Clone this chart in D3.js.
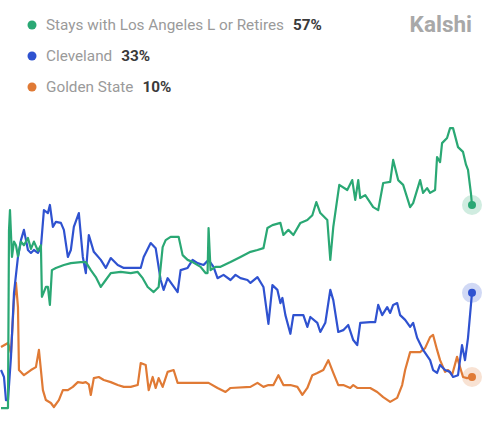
<!DOCTYPE html>
<html><head><meta charset="utf-8">
<script src="https://cdn.jsdelivr.net/npm/d3@7"></script>
<style>body{margin:0;background:#fff}svg{display:block}</style>
</head><body>
<svg id="c" width="500" height="440"></svg>
<script>
const seriesNames = ["Stays with Los Angeles L or Retires", "Cleveland", "Golden State"];
const seriesLabels = ["57%", "33%", "10%"];
const seriesColors = ["#2aa874", "#2f52d0", "#e07a35"];
const brand = "Kalshi";

// [time index, probability %]
const greenData = [[0,1.5],[7,1.5],[8,50],[9,55.6],[11,42.8],[13,47],[15,46],[17,43],[20,47],[23,46],[27,48],[30,45],[33,47],[37,44.5],[40,46],[41,31.9],[45,34.6],[47,34.6],[49,29.7],[51,39.2],[55,39.8],[63,40.6],[70,41.1],[80,41.4],[85,41.4],[90,39.2],[95,37.3],[100,34.6],[105,36.5],[110,38.4],[120,38.7],[130,38.4],[137,38.7],[142,37.0],[147,34.6],[153,33.2],[158,34.6],[162,45.5],[165,47.4],[170,48.3],[178,48.3],[182,43.3],[187,42.0],[192,41.4],[200,40.1],[205,38.4],[207,38.4],[208,50.7],[210,39.2],[215,40.1],[220,40.1],[230,41.4],[240,42.8],[250,44.2],[257,44.7],[263,45.2],[267,50.7],[272,51.5],[280,52.1],[283,48.8],[288,50.2],[293,48.8],[300,52.1],[307,52.9],[312,54.2],[316,57.8],[320,54.8],[327,52.9],[330,42.0],[333,51.0],[339,62.5],[347,61.1],[352,63.8],[355,58.4],[358,63.8],[360,58.9],[365,59.7],[373,56.4],[378,55.6],[383,63.0],[390,63.3],[393,69.3],[398,63.8],[403,62.5],[410,56.4],[413,57.5],[420,63.8],[423,60.3],[427,61.6],[430,60.3],[435,61.1],[437,70.1],[440,68.7],[442,73.9],[447,75.3],[450,78.0],[453,78.0],[458,72.8],[463,71.5],[466,68],[468,66.6],[471,60],[472,57]];

const blueData = [[0,11.9],[3,10.0],[5,3.7],[7,3.7],[10,15.5],[13,32.9],[17,42.8],[20,47.4],[23,50.2],[27,44.7],[30,43.9],[33,44.7],[37,43.9],[40,45.5],[43,55.6],[47,54.8],[49,57.0],[52,51.0],[55,52.4],[60,52.1],[63,50.2],[67,42.8],[70,44.7],[73,51.0],[78,54.8],[82,42.8],[85,38.4],[88,48.8],[93,44.2],[100,42.0],[105,39.8],[110,42.5],[117,40.6],[123,39.8],[130,39.8],[140,39.8],[143,42.8],[150,46.6],[155,45.2],[160,36.5],[163,33.8],[167,37.0],[172,35.1],[177,33.2],[180,39.2],[187,39.8],[192,42.0],[197,41.1],[203,40.6],[208,42.0],[213,40.1],[217,37.0],[223,37.9],[230,36.5],[235,37.9],[240,37.0],[247,36.5],[250,35.7],[257,37.3],[263,34.6],[268,24.5],[272,35.1],[277,33.8],[280,30.2],[282,31.6],[285,26.9],[290,21.8],[293,26.9],[303,26.9],[307,23.7],[310,26.4],[317,24.8],[320,22.3],[325,24.8],[330,33.8],[333,31.0],[338,22.3],[343,22.8],[348,24.2],[353,20.1],[357,18.7],[360,24.8],[370,25.0],[375,25.0],[378,29.7],[382,26.9],[387,29.1],[390,27.5],[393,29.7],[397,30.2],[400,26.9],[405,25.6],[410,23.7],[413,24.8],[417,20.7],[423,17.4],[430,14.6],[433,11.9],[437,11.1],[440,13.3],[445,11.9],[450,11.4],[453,10.0],[458,10.5],[462,18.7],[465,14.6],[468,20.7],[472,33]];

const orangeData = [[0,18.2],[7,19.3],[10,16.6],[13,31.0],[15,35.7],[17,29.1],[18,11.9],[23,10.5],[30,11.9],[35,12.7],[38,17.4],[42,6.4],[45,3.7],[50,2.9],[53,1.8],[58,3.7],[62,6.4],[67,6.4],[72,7.3],[77,8.6],[82,8.4],[85,8.6],[88,8.0],[90,5.1],[93,9.7],[98,10.0],[103,9.2],[110,8.6],[117,7.8],[123,7.3],[130,7.3],[137,7.8],[140,13.8],[145,13.3],[148,6.4],[152,10.0],[155,7.0],[158,9.7],[162,7.3],[167,11.4],[173,11.9],[177,8.4],[190,8.4],[208,8.4],[217,7.0],[225,5.9],[230,7.0],[250,7.3],[257,8.4],[263,7.3],[268,7.8],[273,7.8],[278,10.5],[283,7.8],[290,7.8],[297,7.3],[302,5.1],[307,7.0],[312,10.5],[317,11.1],[323,11.9],[328,14.6],[333,11.1],[338,7.8],[343,7.8],[350,7.0],[353,7.8],[357,7.0],[363,7.0],[370,7.0],[377,5.9],[383,4.5],[390,3.2],[397,4.3],[402,7.8],[405,11.9],[410,16.8],[415,16.8],[420,16.8],[425,17.9],[430,20.9],[433,21.5],[437,17.4],[440,14.6],[445,11.4],[448,11.9],[452,10.5],[457,15.5],[460,12.7],[463,10.0],[467,9.7],[472,10]];

const allData = [greenData, blueData, orangeData];

const svg = d3.select("#c");
const x = d3.scaleLinear().domain([0, 472]).range([1, 472]);
const y = d3.scaleLinear().domain([0, 100]).range([413.6, 47.6]);

const line = d3.line().x(d => x(d[0])).y(d => y(d[1])).curve(d3.curveLinear);

const order = [2, 1, 0];
order.forEach(i => {
  svg.append("path").datum(allData[i])
    .attr("fill", "none").attr("stroke", seriesColors[i])
    .attr("stroke-width", 2.2).attr("stroke-linejoin", "round")
    .attr("d", line);
});
order.forEach(i => {
  const last = allData[i][allData[i].length - 1];
  svg.append("circle").attr("cx", x(last[0])).attr("cy", y(last[1]))
    .attr("r", 10).attr("fill", seriesColors[i]).attr("opacity", 0.22);
  svg.append("circle").attr("cx", x(last[0])).attr("cy", y(last[1]))
    .attr("r", 4).attr("fill", seriesColors[i]);
});

// legend
const lg = svg.append("g");
seriesNames.forEach((n, i) => {
  const yy = 25 + i * 31;
  lg.append("circle").attr("cx", 32).attr("cy", yy).attr("r", 4.5).attr("fill", seriesColors[i]);
  const t = lg.append("text").attr("x", 46).attr("y", yy + 5)
    .attr("font-family", "Roboto, 'Noto Sans', sans-serif").attr("font-size", 15.3)
    .attr("fill", "#9a9a9a").text(n);
  const w = t.node().getComputedTextLength();
  lg.append("text").attr("x", 46 + w + 9).attr("y", yy + 5)
    .attr("font-family", "Roboto, 'Noto Sans', sans-serif").attr("font-size", 15.3)
    .attr("font-weight", "bold").attr("fill", "#3a3a3a").text(seriesLabels[i]);
});

svg.append("text").attr("x", 472).attr("y", 32).attr("text-anchor", "end")
  .attr("font-family", "Roboto, 'Noto Sans', sans-serif").attr("font-size", 22.5)
  .attr("font-weight", "bold").attr("fill", "#a8a8a8").text(brand);
</script>
</body></html>
